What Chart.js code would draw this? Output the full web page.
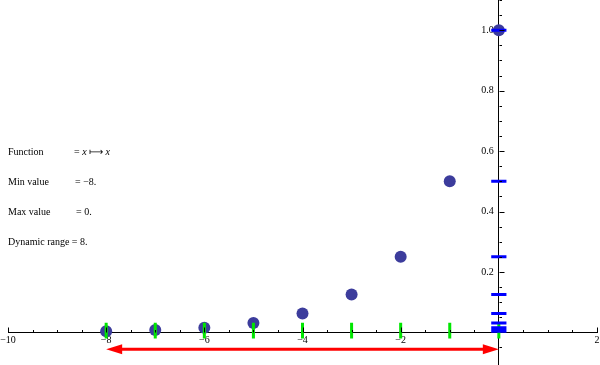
<!DOCTYPE html>
<html>
<head>
<meta charset="utf-8">
<script src="https://cdn.jsdelivr.net/npm/chart.js@4.4.1/dist/chart.umd.min.js"></script>
<style>
  body { margin: 0; background: #fff; }
  #wrap { position: relative; width: 600px; height: 365px; }
  .note {
    position: absolute;
    font-family: "Liberation Serif", serif;
    font-size: 10px;
    line-height: 10px;
    color: #000;
    white-space: nowrap;
  }
</style>
</head>
<body>
<div id="wrap">
  <canvas id="rangeChart"></canvas>
  <div class="note" style="left:8px; top:147px">Function</div>
  <div class="note" style="left:74px; top:147px">= <i>x</i> &#10236; <i>x</i></div>
  <div class="note" style="left:8px; top:177px">Min value</div>
  <div class="note" style="left:75px; top:177px">= &minus;8.</div>
  <div class="note" style="left:8px; top:207px">Max value</div>
  <div class="note" style="left:76px; top:207px">= 0.</div>
  <div class="note" style="left:8px; top:237px">Dynamic range = 8.</div>
</div>
<script>
// sample points of the function
const xValues = [-8, -7, -6, -5, -4, -3, -2, -1, 0];
const yValues = [0.0039, 0.0078, 0.0156, 0.0313, 0.0625, 0.125, 0.25, 0.5, 1.0];

// axis ranges
const xRange = [-10, 2];
const yRange = [-0.108, 1.1];

// small marker sizes (in data units)
const greenTick = [0.032, -0.02];
const blueTick = [-0.155, 0.155];

// the dynamic range arrow
const arrowX = [-8, 0];
const arrowY = -0.056;

function buildSegments(points) {
  const out = [];
  points.forEach(function (p) {
    out.push(p[0], p[1], { x: p[0].x, y: null });
  });
  return out;
}

const greenData = buildSegments(xValues.map(function (v) {
  return [{ x: v, y: greenTick[0] }, { x: v, y: greenTick[1] }];
}));

const blueData = buildSegments(yValues.map(function (v) {
  return [{ x: blueTick[0], y: v }, { x: blueTick[1], y: v }];
}));

const dotData = xValues.map(function (v, i) {
  return { x: v, y: yValues[i] };
});

const arrowData = arrowX.map(function (v) {
  return { x: v, y: arrowY };
});

function isStep(v, step) {
  const r = v / step;
  return Math.abs(r - Math.round(r)) < 1e-6;
}

// axes sit inside the plot, so no room is kept for label overhang
function noPadding(scale) {
  scale.paddingLeft = 0;
  scale.paddingRight = 0;
  scale.paddingTop = 0;
  scale.paddingBottom = 0;
}

// mathematica-like tick marks: up from the x axis, right from the y axis
const tickMarks = {
  id: "tickMarks",
  afterDraw(chart) {
    const { ctx, scales: { x, y } } = chart;
    const x0 = Math.round(x.getPixelForValue(0)) + 0.5;
    const y0 = Math.round(y.getPixelForValue(0)) + 0.5;
    ctx.save();
    ctx.strokeStyle = "#000";
    ctx.lineWidth = 1;
    ctx.beginPath();
    x.ticks.forEach(function (t) {
      if (!isStep(t.value, 0.5) || t.value === 0) return;
      const px = Math.round(x.getPixelForValue(t.value)) + 0.5;
      const len = isStep(t.value, 2) ? 5 : 2.5;
      ctx.moveTo(px, y0);
      ctx.lineTo(px, y0 - len);
    });
    y.ticks.forEach(function (t) {
      if (!isStep(t.value, 0.05) || Math.abs(t.value) < 1e-6) return;
      const py = Math.round(y.getPixelForValue(t.value)) + 0.5;
      const len = isStep(t.value, 0.2) ? 5 : 2.5;
      ctx.moveTo(x0, py);
      ctx.lineTo(x0 + len, py);
    });
    ctx.stroke();
    ctx.restore();
  }
};

// arrow heads on both ends of the arrow dataset
const arrowHeads = {
  id: "arrowHeads",
  beforeDatasetDraw(chart, args) {
    if (chart.data.datasets[args.index].label !== "arrow") return;
    const pts = args.meta.data;
    const ctx = chart.ctx;
    ctx.save();
    ctx.beginPath();
    ctx.rect(pts[0].x + 8, 0, pts[1].x - pts[0].x - 16, chart.height);
    ctx.clip();
  },
  afterDatasetDraw(chart, args) {
    if (chart.data.datasets[args.index].label !== "arrow") return;
    const ctx = chart.ctx;
    ctx.restore();
    const pts = args.meta.data;
    const len = 16, half = 5;
    ctx.save();
    ctx.fillStyle = "#ff0000";
    ctx.beginPath();
    ctx.moveTo(pts[0].x, pts[0].y);
    ctx.lineTo(pts[0].x + len, pts[0].y - half);
    ctx.lineTo(pts[0].x + len, pts[0].y + half);
    ctx.closePath();
    ctx.moveTo(pts[1].x, pts[1].y);
    ctx.lineTo(pts[1].x - len, pts[1].y - half);
    ctx.lineTo(pts[1].x - len, pts[1].y + half);
    ctx.closePath();
    ctx.fill();
    ctx.restore();
  }
};

const tickFont = { family: "Liberation Serif", size: 10 };

new Chart(document.getElementById("rangeChart"), {
  type: "scatter",
  data: {
    datasets: [
      {
        label: "blue",
        data: blueData,
        showLine: true,
        borderColor: "#0000ff",
        borderWidth: 3,
        borderCapStyle: "butt",
        pointRadius: 0,
        spanGaps: false
      },
      {
        label: "green",
        data: greenData,
        showLine: true,
        borderColor: "#00e600",
        borderWidth: 3,
        borderCapStyle: "butt",
        pointRadius: 0,
        spanGaps: false
      },
      {
        label: "arrow",
        data: arrowData,
        showLine: true,
        borderColor: "#ff0000",
        borderWidth: 3,
        borderCapStyle: "butt",
        pointRadius: 0
      },
      {
        label: "dots",
        data: dotData,
        backgroundColor: "#3c3c9c",
        borderWidth: 0,
        pointRadius: 6,
        pointHoverRadius: 6
      }
    ]
  },
  options: {
    responsive: true,
    maintainAspectRatio: false,
    animation: false,
    layout: {
      autoPadding: false,
      padding: { left: 8, right: 3, top: 0, bottom: 0 }
    },
    scales: {
      x: {
        type: "linear",
        min: xRange[0],
        max: xRange[1],
        position: { y: 0 },
        z: 1,
        afterFit: noPadding,
        grid: { display: false, drawTicks: false },
        border: { display: true, color: "#000", width: 1 },
        ticks: {
          stepSize: 0.5,
          autoSkip: false,
          maxRotation: 0,
          padding: 2,
          color: "#000",
          font: tickFont,
          callback: function (v) {
            if (v === 0 || !isStep(v, 2)) return "";
            return v < 0 ? "\u2212" + Math.abs(v) : String(v);
          }
        }
      },
      y: {
        type: "linear",
        min: yRange[0],
        max: yRange[1],
        position: { x: 0 },
        z: 1,
        afterFit: noPadding,
        grid: { display: false, drawTicks: false },
        border: { display: true, color: "#000", width: 1 },
        ticks: {
          stepSize: 0.05,
          autoSkip: false,
          color: "#000",
          font: tickFont,
          callback: function (v) {
            if (v <= 0 || !isStep(v, 0.2)) return "";
            // en space keeps the label off the axis line
            return v.toFixed(1) + "\u2002";
          }
        }
      }
    },
    plugins: {
      legend: { display: false },
      tooltip: { enabled: false }
    }
  },
  plugins: [arrowHeads, tickMarks]
});
</script>
</body>
</html>
